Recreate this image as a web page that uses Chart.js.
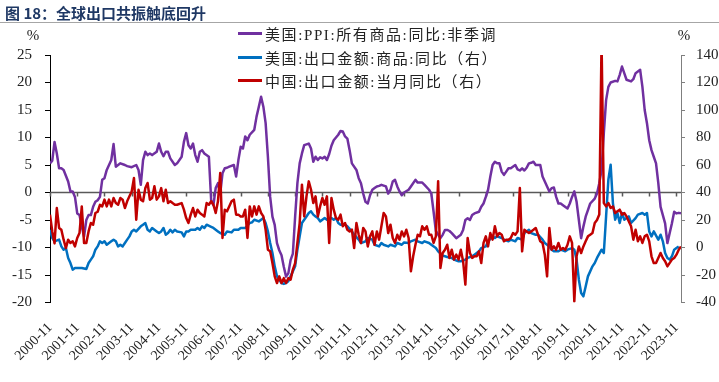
<!DOCTYPE html>
<html>
<head>
<meta charset="utf-8">
<script src="https://cdn.jsdelivr.net/npm/chart.js@4.4.0/dist/chart.umd.min.js"></script>
<style>
  html, body { margin: 0; padding: 0; background: #fff; overflow: hidden; }
  #wrap { position: relative; width: 719px; height: 382px; }
  canvas { position: absolute; left: 0; top: 0; }
  #title { position: absolute; left: 5px; top: 2px; font: bold 15px "Noto Sans CJK SC", sans-serif; color: #1f3864; }
  #rule { position: absolute; left: 0; top: 22px; width: 719px; border-top: 1px solid #a6a6a6; }
  #legend { position: absolute; left: 238px; top: 22px; font-family: "Liberation Serif", "Noto Sans CJK SC", serif; font-size: 15px; letter-spacing: 1.6px; color: #222; }
  .row { height: 23.5px; display: flex; align-items: center; white-space: nowrap; }
  .swatch { width: 24px; height: 3px; margin-right: 3px; }
  #source { position: absolute; left: 5px; top: 378px; font: 13px "Noto Sans CJK SC", sans-serif; color: #999; }
</style>
</head>
<body>
<div id="wrap">
  <canvas id="exportChart" width="719" height="382"></canvas>
  <div id="title">图 18：全球出口共振触底回升</div>
  <div id="rule"></div>
  <div id="legend"></div>
  <div id="source">资料来源：Wind，国泰君安证券研究</div>
</div>
<script>
// x = months since 2000-11, y = value
const tickLabels = ['2000-11', '2001-11', '2002-11', '2003-11', '2004-11', '2005-11', '2006-11', '2007-11',
  '2008-11', '2009-11', '2010-11', '2011-11', '2012-11', '2013-11', '2014-11', '2015-11', '2016-11',
  '2017-11', '2018-11', '2019-11', '2020-11', '2021-11', '2022-11', '2023-11'];
const lastMonth = 278;

const seriesNames = ['美国:PPI:所有商品:同比:非季调', '美国:出口金额:商品:同比（右）', '中国:出口金额:当月同比（右）'];
const seriesColors = ['#7030a0', '#0070c0', '#c00000'];

// US PPI, left axis (%)
const usPpi = [[0,5.3],[1,5.8],[2,9.2],[3,7.1],[4,4.4],[5,4.4],[6,4.1],[8,2.0],[9,0.2],[10,0.2],[11,-0.8],[12,-3.8],
  [13,-4.1],[14,-6.2],[15,-8.0],[16,-5.0],[17,-4.1],[18,-4.1],[19,-2.6],[20,-1.7],[21,-1.4],[22,-0.8],[23,2.3],[24,2.6],
  [25,4.1],[27,5.9],[28,8.8],[29,4.7],[30,5.0],[31,5.3],[33,5.0],[34,4.8],[36,4.6],[38,5.0],[39,4.1],[40,1.4],[41,5.9],
  [42,7.4],[43,6.8],[44,7.1],[45,6.8],[47,7.4],[48,8.9],[49,7.4],[50,6.6],[51,7.4],[52,7.4],[53,6.2],[55,5.0],[56,5.3],
  [58,6.5],[59,9.2],[60,10.8],[61,8.6],[62,8.0],[63,8.9],[64,6.8],[65,5.6],[66,7.4],[67,7.7],[68,7.1],[70,6.5],[71,-1.4],
  [72,-2.3],[73,0.8],[74,1.7],[75,-0.2],[76,3.5],[77,4.4],[78,4.5],[79,4.7],[81,5.0],[82,2.9],[83,5.9],[84,8.3],[85,8.0],
  [86,10.2],[87,9.5],[88,10.5],[90,11.4],[91,13.8],[92,15.6],[93,17.4],[94,15.6],[95,12.6],[96,6.5],[97,-0.8],[98,-4.4],
  [99,-5.9],[100,-9.2],[101,-10.5],[102,-11.4],[103,-13.5],[104,-15.3],[105,-14.7],[106,-12.3],[107,-11.1],[108,-4.4],
  [109,1.7],[110,5.3],[111,7.1],[112,8.6],[114,8.9],[115,8.0],[116,5.6],[117,6.5],[118,5.9],[119,6.4],[120,6.2],[121,6.5],
  [122,5.9],[123,7.0],[124,8.5],[125,9.5],[126,10.0],[127,10.5],[128,11.2],[129,11.1],[130,10.2],[131,9.8],[132,7.7],
  [133,5.3],[135,4.1],[136,2.6],[137,1.7],[138,-0.2],[139,-1.7],[140,-2.0],[141,-0.5],[142,0.5],[143,0.8],[144,1.1],
  [145,1.2],[146,1.4],[148,1.1],[149,-0.2],[150,0.5],[151,2.0],[152,2.3],[153,1.1],[154,0.2],[155,-0.5],[156,0.0],[158,0.5],
  [159,1.1],[161,2.3],[162,1.8],[164,1.8],[165,1.4],[167,0.5],[168,-0.2],[169,-3.5],[170,-7.0],[172,-8.3],[173,-7.7],
  [174,-6.8],[175,-6.8],[176,-7.0],[177,-7.4],[179,-8.3],[180,-8.0],[181,-7.7],[182,-6.8],[183,-5.0],[184,-4.7],[185,-5.0],
  [186,-4.1],[187,-3.8],[189,-3.5],[190,-2.6],[191,-2.0],[192,-0.8],[193,0.5],[194,2.9],[195,5.0],[196,5.6],[197,5.3],
  [198,5.3],[199,3.8],[200,3.2],[201,3.8],[202,4.4],[203,4.4],[205,5.0],[206,4.2],[207,4.0],[208,4.4],[209,4.0],[210,4.5],
  [211,5.3],[212,5.4],[213,5.6],[214,5.0],[216,5.0],[217,2.9],[219,1.1],[220,0.2],[221,0.8],[222,0.9],[223,-0.8],[224,-2.0],
  [225,-2.0],[226,-2.3],[228,-2.9],[229,-2.0],[230,-0.8],[231,0.2],[232,-1.7],[233,-5.0],[234,-8.3],[235,-6.2],[236,-4.4],
  [237,-3.2],[238,-2.0],[240,-1.1],[241,-0.2],[242,1.7],[243,4.1],[244,10.8],[245,16.8],[246,19.2],[247,20.0],[249,20.3],
  [250,20.2],[251,21.4],[252,22.9],[253,21.7],[254,20.5],[256,20.2],[257,20.6],[258,21.7],[259,22.0],[260,22.3],[261,19.2],
  [262,15.0],[263,12.6],[264,9.5],[265,7.7],[266,6.5],[267,5.3],[268,1.7],[269,-2.6],[271,-5.6],[272,-9.2],[274,-5.6],
  [275,-3.5],[276,-3.8],[277,-3.7],[278,-3.8]];

// US goods exports yoy, right axis (%)
const usExports = [[0,12.9],[1,6.9],[2,4.5],[4,5.7],[5,0.8],[6,-1.6],[7,-0.4],[8,-7.6],[9,-11.3],[10,-16.1],[11,-14.9],
  [13,-14.9],[14,-14.9],[16,-15.6],[17,-11.3],[18,-8.8],[19,-6.4],[20,-1.6],[21,0.8],[22,4.5],[23,3.3],[24,4.5],[25,2.0],
  [27,4.5],[28,5.7],[29,4.5],[30,0.8],[31,2.0],[32,0.8],[33,3.3],[34,5.7],[35,8.1],[36,11.7],[37,12.9],[38,11.7],[40,15.4],
  [41,16.6],[42,17.8],[43,12.9],[44,11.7],[45,14.2],[47,11.7],[48,10.5],[49,11.7],[50,14.2],[51,9.3],[52,10.5],[53,12.9],
  [54,11.0],[55,12.9],[56,11.7],[58,11.0],[59,8.1],[60,11.7],[61,11.7],[62,12.9],[64,12.9],[65,14.2],[66,12.9],[67,15.4],
  [68,14.2],[69,16.6],[71,15.0],[72,14.2],[74,11.7],[75,10.5],[77,9.3],[78,11.7],[80,11.0],[81,12.9],[83,12.9],[84,14.2],
  [86,14.2],[88,17.8],[89,18.3],[90,20.2],[92,19.0],[93,20.2],[94,21.4],[95,17.8],[96,11.7],[97,3.3],[98,-4.0],[99,-13.7],
  [100,-21.0],[101,-23.4],[102,-25.8],[103,-26.5],[104,-25.8],[105,-24.6],[106,-21.0],[108,-13.7],[109,-1.6],[110,8.1],
  [111,17.8],[112,20.2],[113,22.6],[114,25.1],[115,26.3],[116,23.9],[117,22.6],[118,21.4],[119,19.0],[120,20.2],[121,21.4],
  [122,20.2],[124,21.4],[125,20.2],[126,21.4],[127,17.8],[128,16.6],[130,16.6],[131,15.4],[133,11.7],[134,9.3],[136,5.7],
  [137,3.3],[139,4.5],[140,6.9],[142,5.7],[143,2.0],[145,0.8],[146,3.3],[147,2.0],[149,0.8],[150,2.0],[152,0.8],[153,3.3],
  [155,2.0],[156,3.7],[158,3.3],[159,4.5],[161,5.7],[162,4.5],[164,3.3],[165,4.5],[167,3.3],[168,2.0],[170,-0.4],[171,-2.8],
  [173,-5.9],[174,-6.4],[175,-6.9],[177,-7.6],[178,-8.8],[180,-10.0],[181,-10.0],[183,-8.8],[184,-7.6],[186,-6.4],[187,-5.2],
  [189,-2.8],[190,-0.4],[192,0.8],[193,4.5],[195,8.1],[196,6.9],[197,8.1],[199,6.9],[200,5.7],[202,4.5],[203,5.7],[205,4.5],
  [206,6.9],[208,5.7],[209,10.5],[211,12.9],[212,10.5],[214,9.3],[215,9.3],[217,5.7],[218,3.3],[220,0.8],[221,-1.6],
  [222,-2.8],[224,-2.8],[225,-1.6],[227,-2.8],[228,-1.6],[230,-0.4],[231,-1.6],[232,-8.8],[233,-23.4],[234,-33.1],
  [235,-35.5],[236,-28.3],[237,-21.0],[239,-13.7],[240,-11.3],[241,-7.6],[243,-1.6],[244,-4.0],[245,22.6],[246,49.3],
  [247,60.2],[248,32.3],[249,20.2],[250,25.1],[251,17.8],[252,25.1],[253,20.2],[255,22.6],[256,17.8],[258,21.4],[259,23.9],
  [261,25.1],[262,23.9],[263,25.1],[264,11.7],[265,8.1],[266,11.7],[268,5.7],[269,9.3],[270,4.5],[271,-4.0],[272,-7.6],
  [273,-8.8],[274,-6.4],[275,-1.6],[276,-0.4],[277,0.8]];

// China exports yoy, right axis (%); the 2021 spike runs past the axis top
const cnExports = [[0,23.9],[1,11.7],[2,3.0],[3,28.7],[4,14.2],[5,12.9],[6,5.7],[7,-0.4],[8,5.7],[9,3.3],[10,4.5],[11,0.8],
  [12,6.9],[13,10.5],[14,29.9],[15,3.3],[16,3.3],[17,11.7],[18,17.8],[19,16.6],[20,25.1],[21,26.0],[22,31.0],[23,29.9],
  [24,34.8],[25,29.9],[26,34.8],[27,29.9],[28,36.0],[29,32.3],[30,31.1],[31,36.0],[32,34.8],[33,28.7],[34,33.6],[35,37.2],
  [36,40.8],[37,50.5],[38,20.2],[39,42.0],[40,34.8],[41,33.6],[42,43.2],[43,46.9],[44,34.8],[45,36.0],[46,44.5],[47,34.8],
  [48,37.2],[49,43.2],[50,33.6],[51,42.0],[52,32.3],[53,33.6],[54,32.3],[55,31.1],[56,31.1],[58,32.3],[59,27.5],[60,21.4],
  [61,17.8],[62,23.9],[63,28.7],[64,22.6],[65,27.5],[66,25.1],[67,23.9],[68,22.6],[69,32.3],[70,31.1],[71,33.6],[72,31.1],
  [73,25.1],[74,33.6],[75,54.2],[76,6.9],[77,27.5],[78,26.3],[80,33.6],[81,34.8],[82,23.9],[83,23.9],[84,22.6],[85,22.6],
  [86,27.5],[87,6.9],[88,29.9],[89,22.6],[90,29.9],[91,23.9],[92,29.9],[93,25.1],[94,22.6],[95,12.9],[96,-1.6],[97,-2.8],
  [98,-11.3],[99,-21.0],[100,-25.8],[101,-21.0],[102,-25.8],[103,-22.3],[104,-25.8],[105,-22.3],[106,-23.4],[107,-16.1],
  [108,-11.3],[109,3.3],[110,17.8],[111,45.7],[112,22.6],[113,37.2],[114,48.1],[115,42.0],[116,32.3],[117,37.2],[118,22.6],
  [119,29.9],[120,36.0],[121,31.1],[122,37.2],[123,3.3],[124,36.0],[125,27.5],[126,21.4],[127,20.2],[128,23.9],[129,15.4],
  [130,17.8],[131,12.9],[132,11.7],[133,13.0],[134,-0.4],[135,17.8],[136,9.3],[137,3.3],[138,14.2],[139,11.7],[140,0.8],
  [141,8.1],[142,11.7],[143,2.0],[144,11.7],[145,5.7],[146,15.4],[147,25.1],[148,22.6],[149,10.5],[150,16.6],[151,6.9],
  [152,3.3],[153,9.3],[154,5.7],[155,11.7],[156,8.1],[157,12.9],[158,6.9],[159,-17.3],[160,-6.4],[161,2.0],[162,9.3],
  [163,8.1],[164,15.4],[165,12.9],[166,15.4],[167,9.3],[168,9.3],[169,3.3],[170,8.1],[171,48.1],[172,-14.9],[173,-4.0],
  [174,-1.6],[175,2.0],[176,-7.6],[177,-1.6],[178,-8.8],[179,-5.2],[180,-8.8],[181,-1.6],[182,-10.0],[183,-27.0],[184,6.9],
  [185,-4.0],[186,-7.6],[187,-6.4],[188,-6.4],[189,-2.8],[190,-11.3],[191,3.3],[192,8.1],[193,0.8],[194,10.5],[195,5.7],
  [196,15.4],[197,8.1],[198,10.5],[199,9.3],[200,4.5],[201,5.7],[202,5.7],[203,6.9],[204,10.5],[205,9.3],[206,11.7],
  [207,43.2],[208,-2.8],[209,12.9],[210,11.7],[211,10.5],[212,11.7],[213,12.9],[214,14.2],[215,9.3],[216,4.5],[217,3.3],
  [218,-5.2],[219,-21.0],[220,14.2],[221,-1.6],[222,0.8],[223,-1.6],[224,3.3],[225,-1.6],[226,-0.4],[227,-1.6],[228,2.0],
  [229,8.1],[230,3.3],[231,-39.2],[232,-6.4],[233,0.8],[234,-4.0],[235,0.8],[236,4.5],[237,8.1],[238,9.3],[239,10.5],
  [240,17.8],[241,20.0],[242,24.0],[243,150],[244,32.3],[245,29.9],[246,32.3],[247,28.7],[248,29.9],[249,25.1],[250,26.3],
  [251,27.5],[252,23.9],[253,25.1],[254,22.6],[256,15.4],[257,5.7],[258,12.9],[259,4.5],[260,8.1],[261,3.3],[262,8.1],
  [263,9.3],[264,4.5],[265,-6.4],[266,-11.3],[267,-11.3],[268,-7.6],[269,-4.0],[270,-7.6],[271,-10.0],[272,-13.7],
  [274,-8.8],[275,-7.6],[276,-5.2],[277,-1.6],[278,0.8]];

const tickMonths = tickLabels.map((_, k) => k * 12);
const toXY = pts => pts.map(([m, v]) => ({ x: m, y: v }));

// legend sits inside the plot, like the original
const legendBox = document.getElementById('legend');
seriesNames.forEach((name, i) => {
  const row = document.createElement('div');
  row.className = 'row';
  row.innerHTML = '<span class="swatch" style="background:' + seriesColors[i] + '"></span><span>' + name + '</span>';
  legendBox.appendChild(row);
});

const serif = 'Liberation Serif';

const zeroAxis = {
  id: 'zeroAxis',
  beforeDatasetsDraw(chart) {
    const { ctx, chartArea, scales } = chart;
    const y0 = scales.y.getPixelForValue(0);
    ctx.save();
    ctx.strokeStyle = '#595959';
    ctx.lineWidth = 1.5;
    ctx.beginPath();
    ctx.moveTo(chartArea.left, y0);
    ctx.lineTo(chartArea.right, y0);
    tickMonths.forEach(m => {
      const x = Math.round(scales.x.getPixelForValue(m)) + 0.5;
      ctx.moveTo(x, y0);
      ctx.lineTo(x, y0 + 4);
    });
    ctx.stroke();
    ctx.restore();
  },
  afterDraw(chart) {
    const { ctx, chartArea } = chart;
    ctx.save();
    ctx.fillStyle = '#222';
    ctx.font = '15px "' + serif + '"';
    ctx.textAlign = 'center';
    ctx.textBaseline = 'middle';
    ctx.fillText('%', chartArea.left - 17, chartArea.top - 19);
    ctx.fillText('%', chartArea.right + 3, chartArea.top - 19);
    ctx.restore();
  }
};

new Chart(document.getElementById('exportChart'), {
  type: 'line',
  data: {
    datasets: [
      { label: seriesNames[0], data: toXY(usPpi), yAxisID: 'y', borderColor: seriesColors[0], order: 3 },
      { label: seriesNames[1], data: toXY(usExports), yAxisID: 'y1', borderColor: seriesColors[1], order: 2 },
      { label: seriesNames[2], data: toXY(cnExports), yAxisID: 'y1', borderColor: seriesColors[2], order: 1 }
    ]
  },
  options: {
    responsive: false,
    animation: false,
    devicePixelRatio: 1,
    layout: { padding: { top: 55, left: 0, right: 0, bottom: 0 }, autoPadding: false },
    elements: {
      line: { borderWidth: 2.5, tension: 0, borderJoinStyle: 'round', fill: false },
      point: { radius: 0 }
    },
    plugins: { legend: { display: false }, tooltip: { enabled: false } },
    scales: {
      x: {
        type: 'linear',
        min: 0,
        max: lastMonth,
        afterBuildTicks: s => { s.ticks = tickMonths.map(v => ({ value: v })); },
        afterFit: s => { s.height = 79.5; },
        grid: { display: false, drawTicks: false },
        border: { display: false },
        ticks: {
          autoSkip: false, minRotation: 45, maxRotation: 45, padding: 17,
          color: '#222', font: { family: serif, size: 14 },
          callback: (v, i) => tickLabels[i]
        }
      },
      y: {
        position: 'left',
        min: -20, max: 25,
        afterFit: s => { s.width = 50; },
        ticks: { stepSize: 5, padding: 13, color: '#222', font: { family: serif, size: 15 } },
        grid: { drawOnChartArea: false, tickLength: 5, color: '#000' },
        border: { color: '#000', width: 1 }
      },
      y1: {
        position: 'right',
        min: -40, max: 140,
        afterFit: s => { s.width = 38; },
        ticks: { stepSize: 20, padding: 11, color: '#222', font: { family: serif, size: 15 } },
        grid: { drawOnChartArea: false, tickLength: 4, color: '#7f7f7f' },
        border: { color: '#7f7f7f', width: 1 }
      }
    }
  },
  plugins: [zeroAxis]
});
</script>
</body>
</html>
